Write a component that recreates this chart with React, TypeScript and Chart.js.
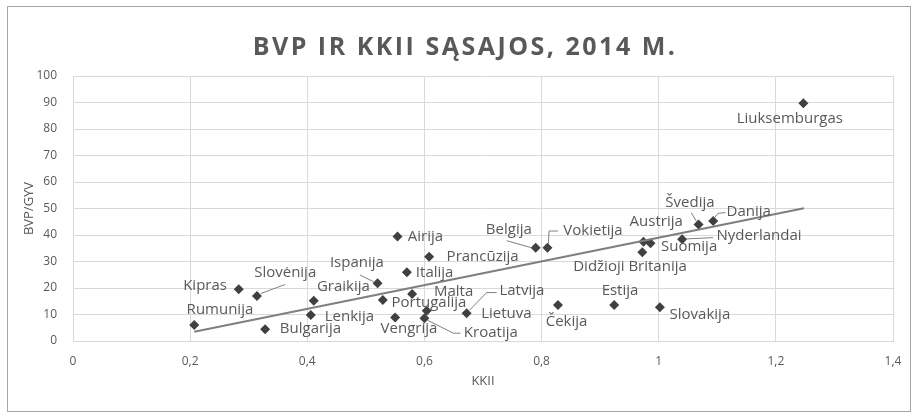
import React, { useEffect, useRef } from 'react';
import { Chart, registerables } from 'chart.js';

Chart.register(...registerables);

const countries = [
  'Rumunija', 'Kipras', 'Slovėnija', 'Bulgarija', 'Graikija', 'Lenkija', 'Ispanija',
  'Airija', 'Italija', 'Prancūzija', 'Portugalija', 'Malta', 'Lietuva', 'Kroatija',
  'Vengrija', 'Latvija', 'Belgija', 'Vokietija', 'Čekija', 'Estija', 'Slovakija',
  'Austrija', 'Suomija', 'Didžioji Britanija', 'Nyderlandai', 'Švedija', 'Danija',
  'Liuksemburgas',
];

const kkii = [
  0.207, 0.283, 0.314, 0.328, 0.411, 0.406, 0.520,
  0.554, 0.570, 0.608, 0.529, 0.579, 0.604, 0.600,
  0.550, 0.672, 0.790, 0.810, 0.828, 0.924, 1.002,
  0.974, 0.986, 0.972, 1.040, 1.068, 1.093,
  1.247,
];

const bvp = [
  6.0, 19.5, 17.0, 4.4, 15.2, 9.8, 21.8,
  39.4, 25.9, 31.8, 15.5, 17.7, 11.4, 8.6,
  8.9, 10.5, 35.2, 35.2, 13.6, 13.6, 12.7,
  37.5, 36.9, 33.5, 38.4, 44.0, 45.3,
  89.7,
];

const trendX = [0.207, 1.248];
const trendY = [3.5, 50.1];

const xTickLabels = ['0', '0,2', '0,4', '0,6', '0,8', '1', '1,2', '1,4'];

const titleText = 'BVP IR KKII SĄSAJOS, 2014 M.';
const xTitle = 'KKII';
const yTitle = 'BVP/GYV';

// label layout: centre offset from point (px) and optional leader line (relative to point)
type LabelSpec = { dx: number; dy: number; leader?: number[][] };
const labelLayout: Record<string, LabelSpec> = {
  'Rumunija': { dx: 25.7, dy: -15 },
  'Kipras': { dx: -33.7, dy: -3.6 },
  'Slovėnija': { dx: 28.3, dy: -23.7, leader: [[4, -2.5], [28.3, -11.5]] },
  'Bulgarija': { dx: 45.3, dy: -1 },
  'Graikija': { dx: 29.7, dy: -14 },
  'Lenkija': { dx: 38.6, dy: 1.7 },
  'Ispanija': { dx: -20.7, dy: -20, leader: [[-17.7, -8.3], [-4, -1.5]] },
  'Airija': { dx: 28, dy: 0 },
  'Italija': { dx: 27.8, dy: 0 },
  'Prancūzija': { dx: 53.5, dy: 0 },
  'Portugalija': { dx: 46.1, dy: 2.7 },
  'Malta': { dx: 41.5, dy: -2.3 },
  'Lietuva': { dx: 79.6, dy: 2.6 },
  'Kroatija': { dx: 66.4, dy: 15, leader: [[3, 2], [29, 15], [36, 15]] },
  'Vengrija': { dx: 13.8, dy: 11 },
  'Latvija': { dx: 55.3, dy: -22.6, leader: [[30, -20.6], [20, -20.6], [3, -3]] },
  'Belgija': { dx: -26.9, dy: -17.7, leader: [[-29, -7], [-4, 0]] },
  'Vokietija': { dx: 45.6, dy: -16.7, leader: [[1, -4], [1.6, -16.7], [10.6, -16.7]] },
  'Čekija': { dx: 8.6, dy: 16.7 },
  'Estija': { dx: 5.8, dy: -14.3 },
  'Slovakija': { dx: 40, dy: 7 },
  'Austrija': { dx: 12.7, dy: -20 },
  'Suomija': { dx: 38.6, dy: 3.4 },
  'Didžioji Britanija': { dx: -12.3, dy: 14.4 },
  'Nyderlandai': { dx: 76.9, dy: -3.6, leader: [[4, -0.3], [31, -1.6]] },
  'Švedija': { dx: -8.6, dy: -22, leader: [[-7.3, -11.6], [-2, -3]] },
  'Danija': { dx: 35.5, dy: -9.3, leader: [[1, -3], [5, -7.7], [12.4, -8.3]] },
  'Liuksemburgas': { dx: -13.6, dy: 15.7 },
};

const TEXT = '#595959';
const GRID = '#d9d9d9';
const FONT = '"Open Sans", "Liberation Sans", sans-serif';

const decorPlugin = {
  id: 'decor',
  beforeDraw(chart: any) {
    const ctx = chart.ctx;
    ctx.save();
    ctx.fillStyle = '#ffffff';
    ctx.fillRect(0, 0, chart.width, chart.height);
    ctx.strokeStyle = '#a6a6a6';
    ctx.lineWidth = 1;
    ctx.strokeRect(7.5, 6.5, 903, 405);
    ctx.restore();
  },
  afterDraw(chart: any) {
    const ctx = chart.ctx;
    const area = chart.chartArea;
    ctx.save();
    // title
    ctx.fillStyle = TEXT;
    ctx.font = `bold 25px ${FONT}`;
    try { (ctx as any).letterSpacing = '2.5px'; } catch (e) {}
    ctx.textAlign = 'center';
    ctx.textBaseline = 'middle';
    ctx.fillText(titleText, 465, 48);
    try { (ctx as any).letterSpacing = '0px'; } catch (e) {}
    // axis titles
    ctx.font = `13px ${FONT}`;
    ctx.fillText(xTitle, (area.left + area.right) / 2, 381);
    ctx.save();
    ctx.translate(29, (area.top + area.bottom) / 2);
    ctx.rotate(-Math.PI / 2);
    ctx.fillText(yTitle, 0, 0);
    ctx.restore();
    // data labels
    const meta = chart.getDatasetMeta(0);
    ctx.font = `15px ${FONT}`;
    meta.data.forEach((pt: any, i: number) => {
      const name = countries[i];
      const spec = labelLayout[name];
      if (!spec) return;
      const px = pt.x;
      const py = pt.y;
      if (spec.leader) {
        ctx.strokeStyle = '#7f7f7f';
        ctx.lineWidth = 1;
        ctx.beginPath();
        spec.leader.forEach((p, k) => {
          if (k === 0) ctx.moveTo(px + p[0], py + p[1]);
          else ctx.lineTo(px + p[0], py + p[1]);
        });
        ctx.stroke();
      }
      ctx.fillStyle = TEXT;
      ctx.textAlign = 'center';
      ctx.textBaseline = 'middle';
      ctx.fillText(name, px + spec.dx, py + spec.dy);
    });
    ctx.restore();
  },
};

export default function App() {
  const ref = useRef<HTMLCanvasElement | null>(null);

  useEffect(() => {
    if (!ref.current) return;
    const points = kkii.map((x, i) => ({ x, y: bvp[i] }));
    const trend = trendX.map((x, i) => ({ x, y: trendY[i] }));
    const chart = new Chart(ref.current, {
      type: 'scatter',
      data: {
        datasets: [
          {
            label: 'BVP/GYV',
            data: points,
            pointStyle: 'rectRot',
            pointRadius: 5,
            pointHoverRadius: 5,
            backgroundColor: '#404040',
            borderColor: '#404040',
            borderWidth: 0,
            order: 1,
          },
          {
            label: 'trend',
            data: trend,
            showLine: true,
            pointRadius: 0,
            borderColor: '#7f7f7f',
            borderWidth: 2,
            order: 0,
          } as any,
        ],
      },
      options: {
        animation: false,
        responsive: false,
        devicePixelRatio: 1,
        layout: { padding: { left: 10, right: 24, top: 76, bottom: 10 } },
        plugins: {
          legend: { display: false },
          title: { display: false },
          tooltip: { enabled: false },
        },
        scales: {
          x: {
            type: 'linear',
            min: 0,
            max: 1.4,
            ticks: {
              stepSize: 0.2,
              color: TEXT,
              font: { size: 12, family: FONT },
              padding: 13,
              callback: (_v: any, i: number) => xTickLabels[i],
            },
            grid: { color: GRID, drawTicks: false },
            border: { display: true, color: GRID },
            afterFit: (s: any) => { s.height = 66; },
          },
          y: {
            type: 'linear',
            min: 0,
            max: 100,
            ticks: {
              stepSize: 10,
              color: TEXT,
              font: { size: 12, family: FONT },
              padding: 16,
            },
            grid: { color: GRID, drawTicks: false },
            border: { display: true, color: GRID },
            afterFit: (s: any) => { s.width = 63; },
          },
        },
      },
      plugins: [decorPlugin],
    });
    return () => chart.destroy();
  }, []);

  return (
    <div style={{ position: 'absolute', left: 0, top: 0, width: 917, height: 417 }}>
      <canvas ref={ref} width={917} height={417} style={{ display: 'block' }} />
    </div>
  );
}
